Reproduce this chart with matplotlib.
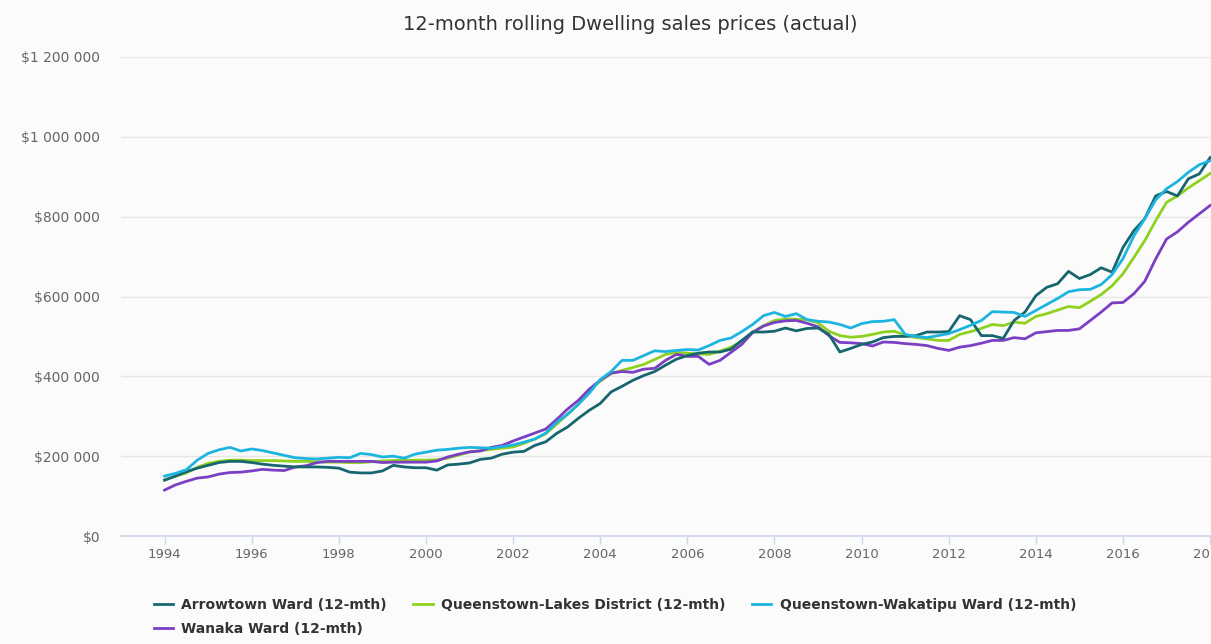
import numpy as np
import matplotlib
matplotlib.use('Agg')
import matplotlib.pyplot as plt
from matplotlib.ticker import FuncFormatter

# quarterly, 1994 Q1 .. 2018 Q1, values in $000
quarters = np.arange(1994, 2018.01, 0.25)

arrowtown = [140, 150, 161, 170, 177, 184, 187, 187, 184, 180, 177, 175,
             173, 173, 173, 172, 170, 160, 158, 158, 163, 177, 173, 171,
             171, 165, 178, 180, 183, 192, 195, 205, 210, 212, 227, 236,
             257, 273, 295, 315, 332, 361, 375, 390, 402, 412, 428, 443,
             452, 458, 461, 461, 468, 490, 511, 511, 513, 521, 514, 520,
             521, 505, 461, 470, 480, 486, 497, 500, 500, 502, 511, 511,
             512, 552, 542, 502, 502, 495, 540, 561, 602, 623, 632, 663,
             645, 655, 672, 661, 723, 765, 795, 852, 863, 852, 895, 907,
             948]

qld = [140, 150, 158, 172, 182, 187, 190, 190, 189, 189, 189, 188,
       187, 187, 186, 185, 185, 184, 184, 186, 188, 189, 190, 190,
       190, 191, 195, 203, 210, 214, 217, 220, 223, 232, 243, 256,
       280, 305, 330, 365, 388, 407, 415, 422, 430, 442, 455, 460,
       458, 456, 455, 463, 473, 488, 511, 527, 540, 544, 543, 542,
       534, 513, 502, 498, 500, 505, 511, 513, 503, 497, 494, 490,
       490, 505, 512, 520, 530, 527, 536, 533, 550, 557, 566, 575,
       572, 588, 605, 627, 657, 698, 740, 790, 836, 852, 872, 890,
       908]

wakatipu = [150, 157, 166, 190, 207, 216, 222, 213, 218, 214, 208, 202,
            196, 194, 193, 195, 197, 196, 207, 204, 198, 200, 195, 205,
            210, 215, 217, 220, 222, 221, 220, 224, 228, 235, 243, 258,
            285, 305, 330, 358, 392, 412, 440, 440, 452, 464, 462, 465,
            467, 466, 477, 490, 496, 512, 530, 552, 560, 550, 557, 542,
            538, 536, 530, 521, 532, 537, 538, 542, 505, 500, 497, 502,
            507, 517, 528, 540, 562, 561, 560, 550, 565, 580, 595, 612,
            617, 618, 630, 655, 695, 752, 795, 842, 870, 888, 911, 930,
            940]

wanaka = [115, 128, 137, 145, 148, 155, 159, 160, 163, 167, 165, 164,
          173, 176, 184, 187, 187, 187, 187, 187, 184, 185, 185, 185,
          185, 188, 198, 205, 211, 213, 222, 227, 238, 248, 258, 268,
          292, 318, 340, 368, 390, 408, 412, 410, 418, 420, 440, 455,
          450, 450, 430, 440, 460, 480, 510, 526, 535, 539, 540, 533,
          524, 502, 485, 484, 482, 476, 486, 485, 482, 480, 477, 470,
          465, 473, 477, 483, 490, 490, 497, 494, 509, 512, 515, 515,
          519, 540, 561, 584, 585, 607, 638, 694, 744, 762, 786, 807,
          828]

series = [
    ('Arrowtown Ward (12-mth)', arrowtown, '#17666f'),
    ('Wanaka Ward (12-mth)', wanaka, '#7b3fc4'),
    ('Queenstown-Lakes District (12-mth)', qld, '#8fd11f'),
    ('Queenstown-Wakatipu Ward (12-mth)', wakatipu, '#1bb5e0'),
]
# draw order (later on top)
draw_order = [2, 1, 0, 3]

fig = plt.figure(figsize=(12.11, 6.44), dpi=100, facecolor='#fbfbfb')
ax = fig.add_axes([121 / 1211, 108 / 644, 1.0 - 121 / 1211, 479 / 644])
ax.set_facecolor('#fbfbfb')

lines = {}
for k in draw_order:
    name, vals, col = series[k]
    lines[k], = ax.plot(quarters, np.array(vals) * 1000, color=col, lw=2.0,
                        label=name, solid_joinstyle='round')

ax.set_xlim(1993, 2018.02)
ax.set_ylim(0, 1200000)
ax.set_xticks(range(1994, 2019, 2))
ax.set_yticks(range(0, 1200001, 200000))
ax.yaxis.set_major_formatter(FuncFormatter(lambda v, p: '$' + f'{int(v):,}'.replace(',', ' ')))

ax.grid(axis='y', color='#e6e6e6', lw=1)
ax.set_axisbelow(True)
for s in ['top', 'right', 'left']:
    ax.spines[s].set_visible(False)
ax.spines['bottom'].set_color('#ccd6eb')
ax.spines['bottom'].set_linewidth(1.2)
ax.tick_params(axis='x', colors='#ccd6eb', length=6, width=1, labelcolor='#666666',
               labelsize=9.5, pad=3)
ax.tick_params(axis='y', length=0, labelcolor='#666666', labelsize=10, pad=15)

fig.text(630 / 1211, 1 - 25 / 644, '12-month rolling Dwelling sales prices (actual)',
         ha='center', va='center', fontsize=14, color='#333333')

handles = [lines[k] for k in range(4)]
leg = fig.legend(handles, [series[k][0] for k in range(4)], ncol=3,
                 loc='upper left', bbox_to_anchor=(148 / 1211, 1 - 592 / 644),
                 frameon=False, prop={'weight': 'bold', 'size': 10},
                 handlelength=1.4, handletextpad=0.6, columnspacing=1.9,
                 labelspacing=0.75, borderaxespad=0)
for t in leg.get_texts():
    t.set_color('#333333')

fig.savefig('out.png', dpi=100, facecolor=fig.get_facecolor())
